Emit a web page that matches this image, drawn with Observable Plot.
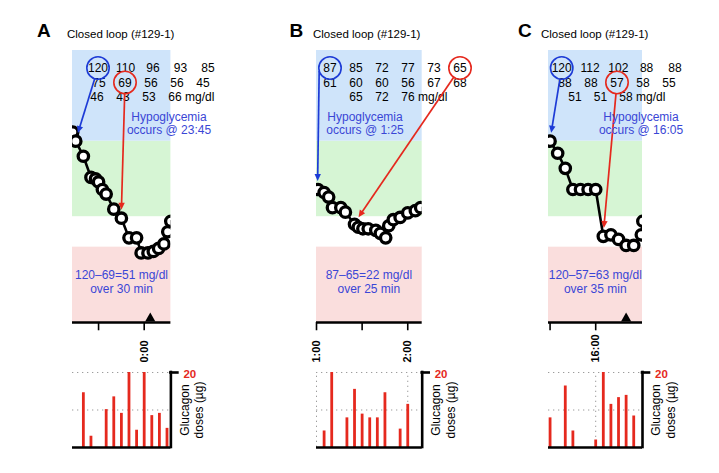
<!DOCTYPE html>
<html>
<head>
<meta charset="utf-8">
<script src="https://cdn.jsdelivr.net/npm/d3@7"></script>
<script src="https://cdn.jsdelivr.net/npm/@observablehq/plot@0.6"></script>
<style>
html,body{margin:0;padding:0;background:#fff;}
#fig{position:relative;width:719px;height:473px;overflow:hidden;background:#fff;font-family:"Liberation Sans",Arial,Helvetica,sans-serif;}
#fig .slot{position:absolute;}
#fig svg{display:block;}
</style>
</head>
<body>
<div id="fig"></div>
<script>
const FONT = '"Liberation Sans", Arial, Helvetica, sans-serif';

// ---------------- data ----------------
// glucose bands (mg/dl)
const bandLower = [0, 50, 70, 120];
const bandUpper = [50, 70, 120, 180];
const bandColors = ["#fadedd", "#ffffff", "#d6f5d4", "#cfe4fa"];

// Panel A (minutes relative to 0:00)
const timeA = [-47, -45, -40, -35, -32, -30, -27.5, -25, -20, -15, -10, -5, -2, 2.5, 6, 9.5, 13, 15.5, 17.5];
const glucoseA = [126, 120, 110, 96, 95, 93, 88, 85, 75, 69, 56, 56, 46, 46, 47, 49, 52, 60, 67];
const doseTimeA = [-40, -35, -25, -20, -15, -10, -5, 0, 5, 10, 15];
const doseA = [14.6, 3.0, 10.1, 13.5, 9.1, 20, 4.6, 20, 8.5, 9.1, 5.1];
const cgmRowsA = [[120, 110, 96, 93, 85], [75, 69, 56, 56, 45], [46, 43, 53, 66]];
const tickTimesA = [-30, 0];
const labelTimesA = [0];
const labelTextA = ["0:00"];
const markerA = [4];

// Panel B (minutes after midnight)
const timeB = [61, 65, 68, 70.5, 76, 79, 85, 87.5, 90.5, 94, 99, 102, 105.5, 107.5, 110.5, 115, 120, 125, 128.5];
const glucoseB = [88, 86, 83, 76, 76, 73, 65, 63, 62, 62, 61, 59, 56, 64, 68, 69.5, 72.5, 74, 76];
const doseTimeB = [65, 70, 80, 85, 90, 95, 100, 105, 115, 120];
const doseB = [4.4, 20, 7.9, 15.5, 8.9, 7.9, 7.9, 14.6, 4.9, 11.5];
const cgmRowsB = [[87, 85, 72, 77, 73, 65], [61, 60, 60, 56, 67, 68], [65, 72, 76]];
const tickTimesB = [60, 90, 120];
const labelTimesB = [60, 120];
const labelTextB = ["1:00", "2:00"];
const markerB = [];

// Panel C (minutes after midnight)
const timeC = [930, 935, 940, 945, 950, 955, 960, 965, 970, 975, 980, 985, 990, 991];
const glucoseC = [120, 112, 102, 88, 88, 88, 88, 57, 58, 55, 51, 51, 58, 67];
const doseTimeC = [930, 940, 945, 960, 965, 970, 975, 980, 985];
const doseC = [7.9, 16.4, 4.4, 2.0, 20, 11.5, 13.3, 13.9, 8.4];
const cgmRowsC = [[120, 112, 102, 88, 88], [88, 88, 57, 58, 55], [51, 51, 58]];
const tickTimesC = [930, 960];
const labelTimesC = [960];
const labelTextC = ["16:00"];
const markerC = [980];

const doseGrid = [10, 20];
const doseMax = 20;
const titleText = "Closed loop (#129-1)";
const doseTitle = ["Glucagon", "doses (\u00b5g)"];

// ---------------- layout / style ----------------
const RED = "#e5291e", BLUE = "#1d3bd6", TEXTBLUE = "#3a46d6", GRID = "#9c9c9c";
const PX_PER_MIN = 1.521;
const TOP_Y = 50, TOP_H = 272;          // glucose frame
const BOT_Y = 372.3, BOT_H = 75;        // dose frame
const rowCenters = [68, 82.5, 97];

const panels = [
  { letter: "A", letterX: 37, titleX: 67, frame: [72.3, 170.7], zero: 144, zeroT: 0,
    time: timeA, glucose: glucoseA, doseTime: doseTimeA, dose: doseA, rows: cgmRowsA,
    ticks: tickTimesA, labelT: labelTimesA, labelS: labelTextA, marker: markerA,
    rowLayout: [[98, 27.5, 0], [99, 26, 0], [97, 26, 0]],
    blue: { row: 0, col: 0, target: 120, targetT: -45 },
    red: { row: 1, col: 1, target: 69, targetT: -15 },
    hypo: ["Hypoglycemia", "occurs @ 23:45"], hypoX: 169,
    drop: ["120\u201369=51 mg/dl", "over 30 min"] },
  { letter: "B", letterX: 289.5, titleX: 313, frame: [316, 421.7], zero: 316, zeroT: 60,
    time: timeB, glucose: glucoseB, doseTime: doseTimeB, dose: doseB, rows: cgmRowsB,
    ticks: tickTimesB, labelT: labelTimesB, labelS: labelTextB, marker: markerB,
    rowLayout: [[330, 26, 0], [330, 26, 0], [330, 26, 1]],
    blue: { row: 0, col: 0, target: 88, targetT: 61, startAngle: 165 },
    red: { row: 0, col: 5, target: 65, targetT: 85 },
    hypo: ["Hypoglycemia", "occurs @ 1:25"], hypoX: 365,
    drop: ["87\u201365=22 mg/dl", "over 25 min"] },
  { letter: "C", letterX: 518, titleX: 541, frame: [548.3, 642.3], zero: 595.5, zeroT: 960,
    time: timeC, glucose: glucoseC, doseTime: doseTimeC, dose: doseC, rows: cgmRowsC,
    ticks: tickTimesC, labelT: labelTimesC, labelS: labelTextC, marker: markerC,
    rowLayout: [[561.7, 28.3, 0], [565, 26, 0], [575, 25.5, 0]],
    blue: { row: 0, col: 0, target: 120, targetT: 930 },
    red: { row: 1, col: 2, target: 57, targetT: 965 },
    hypo: ["Hypoglycemia", "occurs @ 16:05"], hypoX: 641,
    drop: ["120\u201357=63 mg/dl", "over 35 min"] }
];

const fig = document.getElementById("fig");

function place(node, left, top, width) {
  const d = document.createElement("div");
  d.className = "slot";
  d.style.left = left + "px";
  d.style.top = top + "px";
  d.style.width = width + "px";
  d.appendChild(node);
  fig.appendChild(d);
}

function scaleOf(chart, name, dom, rng) {
  try {
    const s = chart.scale(name);
    if (s && typeof s.apply === "function") return v => s.apply(v);
  } catch (e) {}
  return d3.scaleLinear(dom, rng);
}

const geo = [];

panels.forEach(p => {
  const W = p.frame[1] - p.frame[0];
  const domain = [p.zeroT + (p.frame[0] - p.zero) / PX_PER_MIN, p.zeroT + (p.frame[1] - p.zero) / PX_PER_MIN];
  const pts = p.time.map((t, i) => ({ t, g: p.glucose[i] }));
  const bands = bandLower.map((lo, i) => ({ lo, hi: bandUpper[i], c: bandColors[i] }));

  // ---------- glucose chart ----------
  const topMarks = bands.map(b => Plot.rect([b], {
    x1: () => domain[0], x2: () => domain[1], y1: d => d.lo, y2: d => d.hi, fill: b.c
  }));
  topMarks.push(
    Plot.line(pts, { x: "t", y: "g", stroke: "black", strokeWidth: 2.6, clip: true }),
    Plot.dot(pts, { x: "t", y: "g", r: 5.2, fill: "white", stroke: "black", strokeWidth: 3.3, clip: true }),
    Plot.ruleY([0], { stroke: "black", strokeWidth: 2.5 }),
    Plot.ruleX(p.ticks, { x: d => d, y1: () => 0, y2: () => -5.5, stroke: "black", strokeWidth: 1.6 }),
    Plot.dot(p.marker, { x: d => d, y: () => 0, symbol: "triangle", r: 3.8, fill: "black", dy: -4 })
  );
  const top = Plot.plot({
    width: W, height: TOP_H + 12,
    marginTop: 0, marginBottom: 12, marginLeft: 0, marginRight: 0,
    x: { domain, axis: null },
    y: { domain: [0, 180], axis: null },
    style: { background: "transparent", overflow: "visible", fontFamily: FONT },
    marks: topMarks
  });
  place(top, p.frame[0], TOP_Y, W);
  const xs = scaleOf(top, "x", domain, [0, W]);
  const ys = scaleOf(top, "y", [0, 180], [TOP_H, 0]);

  // ---------- glucagon chart ----------
  const mL = 2, mR = 46, mT = 36, mB = 4;
  const doses = p.doseTime.map((t, i) => ({ t, v: p.dose[i] }));
  const labels = p.labelT.map((t, i) => ({ t, s: p.labelS[i] }));
  const tickLen = 7 / PX_PER_MIN;
  const bottom = Plot.plot({
    width: W + mL + mR, height: BOT_H + mT + mB,
    marginTop: mT, marginBottom: mB, marginLeft: mL, marginRight: mR,
    x: { domain, axis: null },
    y: { domain: [0, doseMax], axis: null },
    style: { background: "transparent", overflow: "visible", fontFamily: FONT },
    marks: [
      Plot.ruleY(doseGrid, { y: d => d, stroke: GRID, strokeWidth: 1, strokeDasharray: "1.3,3.7" }),
      Plot.ruleX(p.labelT, { x: d => d, y1: () => 0, y2: () => doseMax, stroke: GRID, strokeWidth: 1, strokeDasharray: "1.3,3.7" }),
      Plot.ruleX(doses, { x: "t", y1: () => 0, y2: "v", stroke: RED, strokeWidth: 2.8 }),
      Plot.ruleY([0], { stroke: "black", strokeWidth: 2.6 }),
      Plot.ruleX([domain[1]], { x: d => d, y1: () => 0, y2: () => doseMax, stroke: "black", strokeWidth: 2.6, strokeLinecap: "square" }),
      Plot.ruleY([doseMax], { y: d => d, x1: () => domain[1], x2: () => domain[1] + tickLen, stroke: "black", strokeWidth: 2.6, strokeLinecap: "square" }),
      Plot.text([String(doseMax)], { x: () => domain[1], y: () => doseMax, text: d => d, dx: 12.5, dy: 1.5, textAnchor: "start", fill: RED, fontWeight: "bold", fontSize: 11.5 }),
      Plot.text([doseTitle[0]], { x: () => domain[1], y: () => doseMax / 2, text: d => d, rotate: -90, dx: 14, fontSize: 12, fill: "black" }),
      Plot.text([doseTitle[1]], { x: () => domain[1], y: () => doseMax / 2, text: d => d, rotate: -90, dx: 28.5, fontSize: 12, fill: "black" }),
      Plot.text(labels, { x: "t", y: () => doseMax, text: "s", rotate: -90, textAnchor: "start", dy: -10, fontWeight: "bold", fontSize: 11, fill: "black" })
    ]
  });
  place(bottom, p.frame[0] - mL, BOT_Y - mT, W + mL + mR);

  geo.push({ p, xs, ys });
});

// ---------------- annotation overlay ----------------
const svg = d3.select(fig).append("svg")
  .attr("width", 719).attr("height", 473)
  .style("position", "absolute").style("left", "0px").style("top", "0px")
  .style("font-family", FONT);

function arrow(x1, y1, x2, y2, color) {
  const dx = x2 - x1, dy = y2 - y1, L = Math.hypot(dx, dy), ux = dx / L, uy = dy / L;
  const head = 7, half = 3.2;
  const bx = x2 - ux * head, by = y2 - uy * head;
  svg.append("line").attr("x1", x1).attr("y1", y1).attr("x2", bx + ux).attr("y2", by + uy)
    .attr("stroke", color).attr("stroke-width", 1.7);
  svg.append("path")
    .attr("d", `M${x2},${y2}L${bx - uy * half},${by + ux * half}L${bx + uy * half},${by - ux * half}Z`)
    .attr("fill", color);
}

geo.forEach(({ p, xs, ys }) => {
  // letter + title
  svg.append("text").attr("x", p.letterX).attr("y", 37).attr("font-size", 19).attr("font-weight", "bold")
    .attr("fill", "black").text(p.letter);
  svg.append("text").attr("x", p.titleX).attr("y", 37.5).attr("font-size", 11.5)
    .attr("fill", "black").text(titleText);

  // numbers
  const cx = (r, c) => p.rowLayout[r][0] + (c + p.rowLayout[r][2]) * p.rowLayout[r][1];
  p.rows.forEach((row, r) => {
    row.forEach((v, c) => {
      svg.append("text").attr("x", cx(r, c)).attr("y", rowCenters[r] + 4.3)
        .attr("text-anchor", "middle").attr("font-size", 12).attr("fill", "black").text(v);
    });
    if (r === p.rows.length - 1) {
      const last = row.length - 1;
      svg.append("text").attr("x", cx(r, last) + String(row[last]).length * 3.34 + 3.4)
        .attr("y", rowCenters[r] + 4.3).attr("font-size", 12).attr("fill", "black").text("mg/dl");
    }
  });

  // circled numbers and arrows
  [[p.blue, BLUE], [p.red, RED]].forEach(([m, color]) => {
    const ccx = cx(m.row, m.col), ccy = rowCenters[m.row], R = 11.2;
    svg.append("circle").attr("cx", ccx).attr("cy", ccy).attr("r", R)
      .attr("fill", "none").attr("stroke", color).attr("stroke-width", 1.6);
    const tx = p.frame[0] + xs(m.targetT), ty = TOP_Y + ys(m.target);
    let dx = tx - ccx, dy = ty - ccy, L = Math.hypot(dx, dy);
    let sx = ccx + R * dx / L, sy = ccy + R * dy / L;
    if (m.startAngle !== undefined) {
      const a = m.startAngle * Math.PI / 180;
      sx = ccx + R * Math.cos(a); sy = ccy + R * Math.sin(a);
    }
    const Ls = Math.hypot(tx - sx, ty - sy);
    const ex = tx - (tx - sx) / Ls * 8;
    const ey = ty - (ty - sy) / Ls * 8;
    arrow(sx, sy, ex, ey, color);
  });

  // hypoglycemia text
  p.hypo.forEach((s, i) => {
    svg.append("text").attr("x", p.hypoX).attr("y", 120.8 + i * 13.4)
      .attr("text-anchor", "middle").attr("font-size", 12).attr("fill", TEXTBLUE).text(s);
  });
  // drop text
  const mid = (p.frame[0] + p.frame[1]) / 2;
  p.drop.forEach((s, i) => {
    svg.append("text").attr("x", mid).attr("y", 279 + i * 13.5)
      .attr("text-anchor", "middle").attr("font-size", 12).attr("fill", TEXTBLUE).text(s);
  });
});
</script>
</body>
</html>
